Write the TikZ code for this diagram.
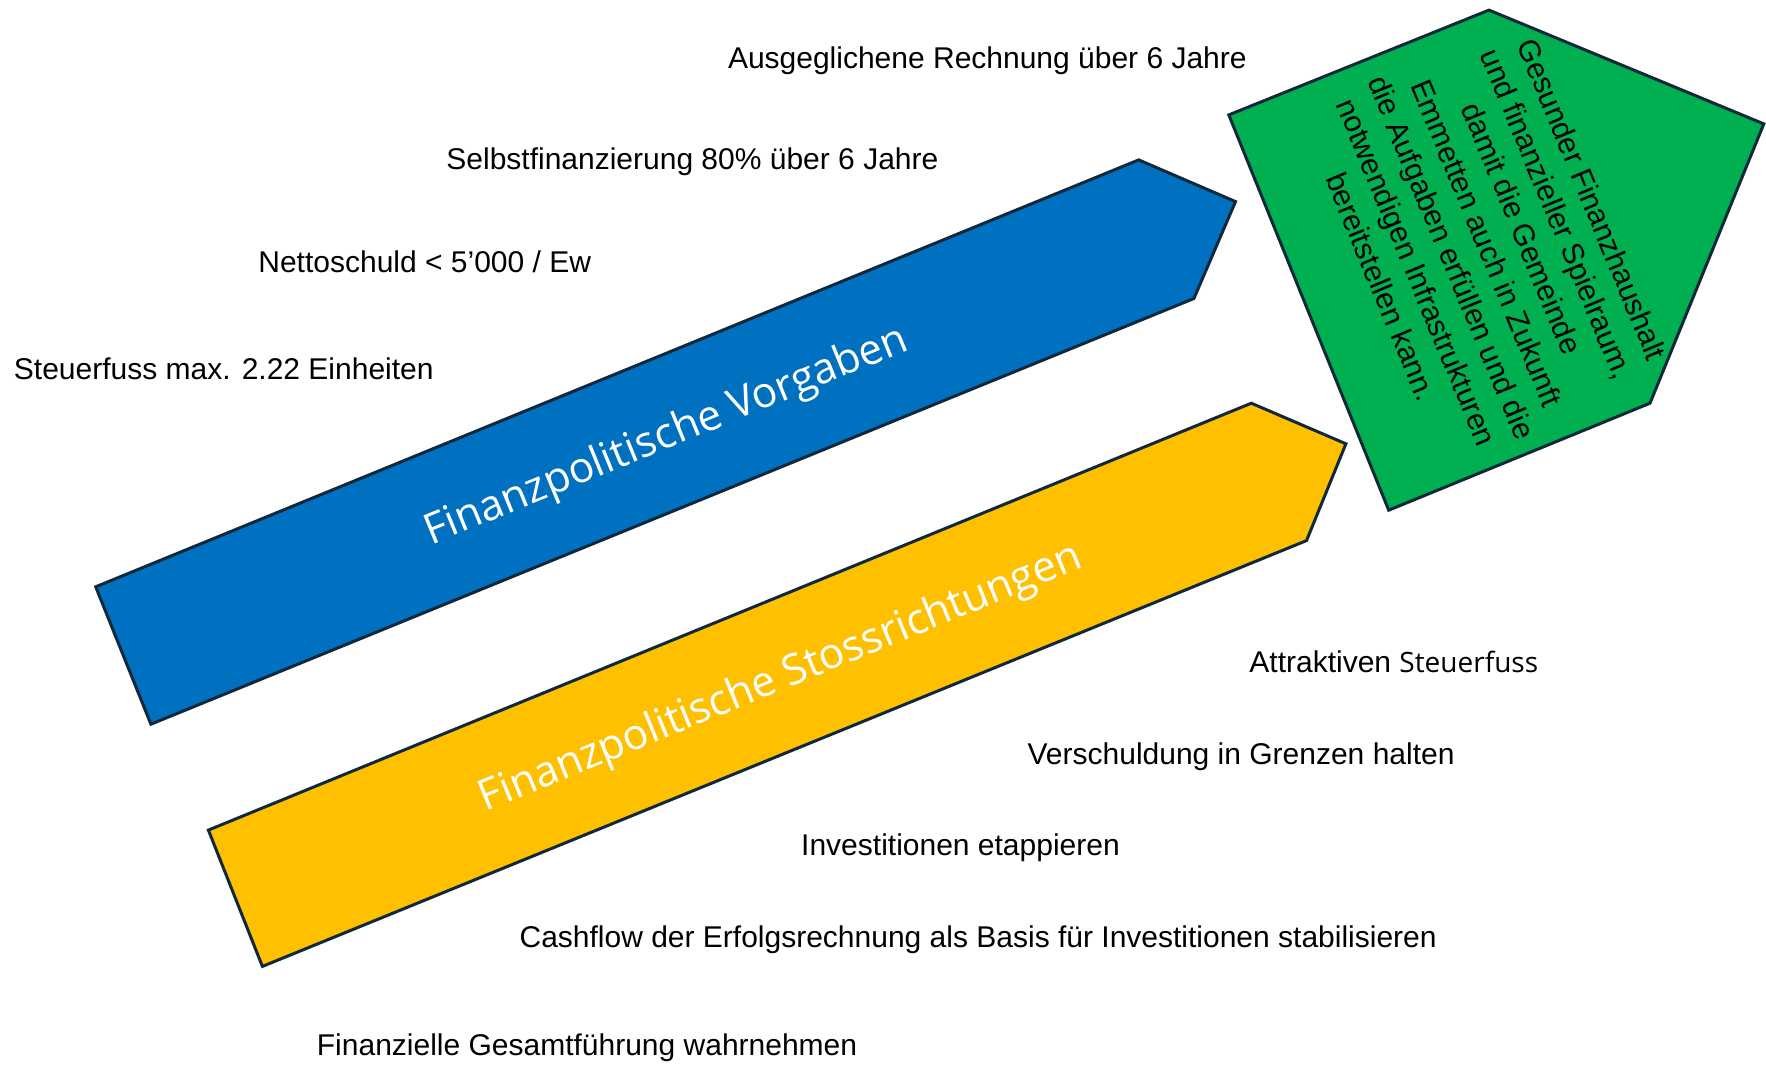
\documentclass[tikz,border=0pt]{standalone}
\usepackage{fontspec}
\setmainfont{Liberation Sans}
\newfontfamily\bannerfont{Open Sans}
\definecolor{vorgabenblau}{HTML}{0070C0}
\definecolor{stossgelb}{HTML}{FFC000}
\definecolor{zielgruen}{HTML}{00B050}
\definecolor{randblau}{HTML}{10283C}

\begin{document}
\begin{tikzpicture}[x=0.5pt,y=-0.5pt,
		band/.style={draw=randblau,line width=1.5pt,line join=miter},
		band text/.style={text=white,font=\bannerfont\fontsize{21.2}{25}\selectfont,rotate=22.26,inner sep=0},
		ziel text/.style={font=\fontsize{15}{19}\selectfont,align=center,rotate=-67.5,inner sep=0},
		punkt/.style={anchor=west,font=\fontsize{15}{18}\selectfont,inner sep=0,text height=10.8pt,text depth=3.2pt}]
	\useasboundingbox (0,0) rectangle (1766,1065);
	
	% Pfeile
	\draw[band,fill=vorgabenblau] (95.7,586.8) -- (1138.7,159.9) -- (1235.5,201.6) -- (1193.9,298.5) -- (150.9,724.2) -- cycle;
	\draw[band,fill=stossgelb] (208.4,830.1) -- (1251.3,403.2) -- (1345.9,443.8) -- (1306.5,540.6) -- (262.4,966.4) -- cycle;
	\draw[band,fill=zielgruen] (1228.8,114.9) -- (1489,10.1) -- (1763.8,123.9) -- (1650,403.2) -- (1388.7,510.2) -- cycle;
	
	\node[band text] (vorgaben) at (667,437) {Finanzpolitische Vorgaben};
	\node[band text] (stoss) at (781,679) {Finanzpolitische Stossrichtungen};
	\node[ziel text] (ziel) at (1487,243) {Gesunder Finanzhaushalt\\und finanzieller Spielraum,\\damit die Gemeinde\\Emmetten auch in Zukunft\\die Aufgaben erfüllen und die\\notwendigen Infrastrukturen\\bereitstellen kann.};
	
	% Vorgaben oben
	\node[punkt] (rechnung) at (727.6,61) {Ausgeglichene Rechnung über 6 Jahre};
	\node[punkt] (selbstfin) at (446,162.3) {Selbstfinanzierung 80\% über 6 Jahre};
	\node[punkt] (nettoschuld) at (258,264.8) {Nettoschuld < 5’000 / Ew};
	\node[punkt] (steuerfuss) at (13.5,371.8) {Steuerfuss max. 2.22 Einheiten};
	
	% Stossrichtungen unten
	\node[punkt] (attraktiv) at (1249,664.6) {Attraktiven {\bannerfont\fontsize{14}{17}\selectfont Steuerfuss}};
	\node[punkt] (verschuldung) at (1027.2,757) {Verschuldung in Grenzen halten};
	\node[punkt] (etappieren) at (800.8,848.2) {Investitionen etappieren};
	\node[punkt] (cashflow) at (519.2,939.4) {Cashflow der Erfolgsrechnung als Basis für Investitionen stabilisieren};
	\node[punkt] (fuehrung) at (316.5,1047.5) {Finanzielle Gesamtführung wahrnehmen};
\end{tikzpicture}
\end{document}
